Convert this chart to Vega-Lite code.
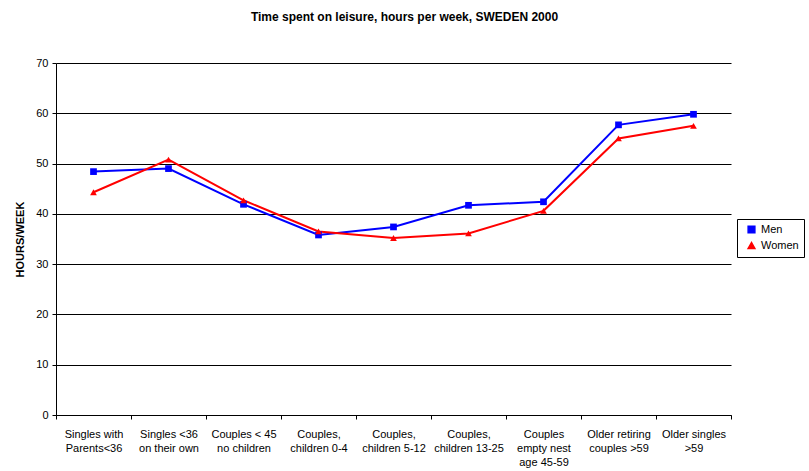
{
  "$schema": "https://vega.github.io/schema/vega-lite/v6.json",
  "width": 675,
  "height": 352,
  "autosize": {"type": "none"},
  "padding": {"left": 56, "top": 63, "right": 78, "bottom": 56},
  "background": "white",
  "config": {
    "font": "Liberation Sans",
    "view": {"stroke": null}
  },
  "title": {
    "text": "Time spent on leisure, hours per week, SWEDEN 2000",
    "fontSize": 12,
    "fontWeight": "bold",
    "font": "Liberation Sans",
    "color": "black",
    "anchor": "middle",
    "offset": 33,
    "dx": 11
  },
  "data": {
    "values": [
      {"group": "Singles with|Parents<36", "sex": "Men", "hours": 48.4},
      {"group": "Singles  <36|on their own", "sex": "Men", "hours": 49.0},
      {"group": "Couples < 45|no children", "sex": "Men", "hours": 41.9},
      {"group": "Couples,|children 0-4", "sex": "Men", "hours": 35.8},
      {"group": "Couples,|children 5-12", "sex": "Men", "hours": 37.4},
      {"group": "Couples,|children 13-25", "sex": "Men", "hours": 41.7},
      {"group": "Couples|empty nest|age 45-59", "sex": "Men", "hours": 42.4},
      {"group": "Older retiring|couples >59", "sex": "Men", "hours": 57.7},
      {"group": "Older singles|>59", "sex": "Men", "hours": 59.8},
      {"group": "Singles with|Parents<36", "sex": "Women", "hours": 44.3},
      {"group": "Singles  <36|on their own", "sex": "Women", "hours": 50.8},
      {"group": "Couples < 45|no children", "sex": "Women", "hours": 42.7},
      {"group": "Couples,|children 0-4", "sex": "Women", "hours": 36.5},
      {"group": "Couples,|children 5-12", "sex": "Women", "hours": 35.2},
      {"group": "Couples,|children 13-25", "sex": "Women", "hours": 36.1},
      {"group": "Couples|empty nest|age 45-59", "sex": "Women", "hours": 40.6},
      {"group": "Older retiring|couples >59", "sex": "Women", "hours": 55.0},
      {"group": "Older singles|>59", "sex": "Women", "hours": 57.5}
    ]
  },
  "mark": {"type": "line", "strokeWidth": 2, "point": {"size": 45, "filled": true, "opacity": 1}},
  "encoding": {
    "x": {
      "field": "group",
      "type": "ordinal",
      "sort": null,
      "bandPosition": 0.5,
      "scale": {"type": "band", "paddingInner": 0, "paddingOuter": 0},
      "axis": {
        "title": null,
        "labelAngle": 0,
        "labelExpr": "split(datum.label, '|')",
        "labelFontSize": 11,
        "labelColor": "black",
        "labelLineHeight": 14,
        "labelPadding": 9,
        "labelLimit": 0,
        "tickBand": "extent",
        "tickColor": "black",
        "tickSize": 4,
        "domainColor": "black",
        "grid": false
      }
    },
    "y": {
      "field": "hours",
      "type": "quantitative",
      "scale": {"domain": [0, 70], "nice": false},
      "axis": {
        "title": "HOURS/WEEK",
        "titleFontSize": 11,
        "titleFontWeight": "bold",
        "titleColor": "black",
        "titlePadding": 10,
        "values": [0, 10, 20, 30, 40, 50, 60, 70],
        "labelFontSize": 11,
        "labelColor": "black",
        "labelPadding": 4,
        "tickColor": "black",
        "tickSize": 4,
        "domainColor": "black",
        "grid": true,
        "gridColor": "black",
        "gridOpacity": 1,
        "gridWidth": 1
      }
    },
    "color": {
      "field": "sex",
      "type": "nominal",
      "scale": {"domain": ["Men", "Women"], "range": ["#0000FF", "#FF0000"]},
      "legend": {
        "title": null,
        "orient": "none",
        "legendX": 681,
        "legendY": 156,
        "strokeColor": "black",
        "padding": 5,
        "labelFontSize": 11,
        "labelColor": "black",
        "symbolSize": 45,
        "symbolOffset": 4,
        "rowPadding": 3
      }
    },
    "shape": {
      "field": "sex",
      "type": "nominal",
      "scale": {"domain": ["Men", "Women"], "range": ["square", "triangle-up"]},
      "legend": null
    }
  }
}
